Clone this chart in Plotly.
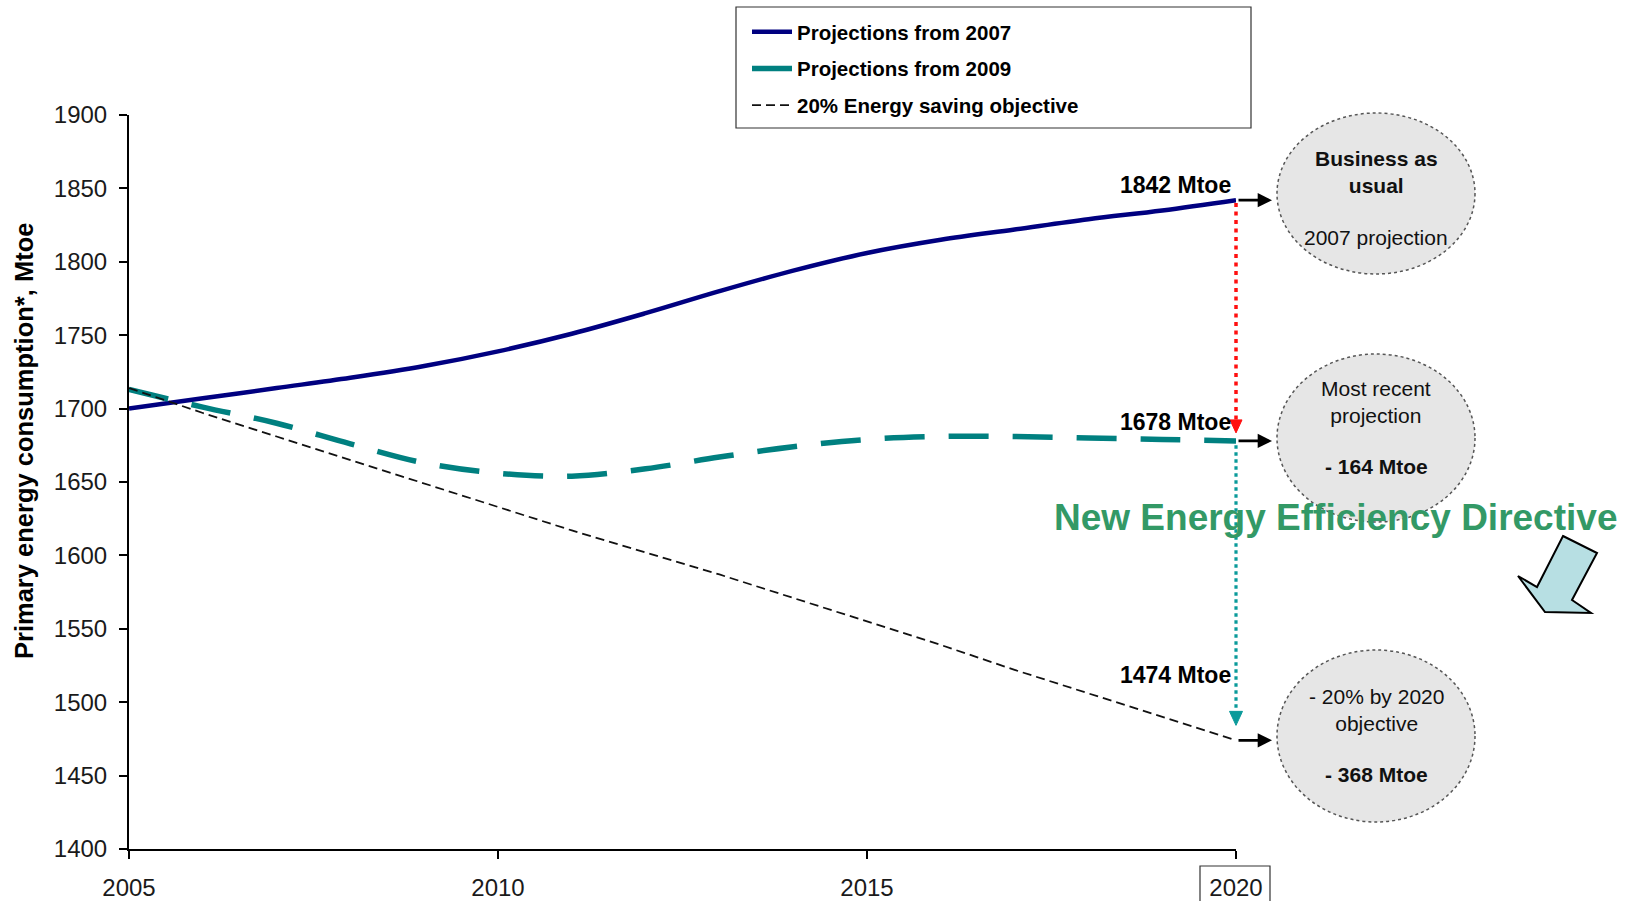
import plotly.graph_objects as go

# ---- data -------------------------------------------------------------
years = list(range(2005, 2021))
proj_2007 = [1700, 1707, 1714, 1721, 1729, 1739, 1751, 1765, 1780, 1794,
             1806, 1815, 1822, 1829, 1835, 1842]
proj_2009 = [1713, 1701, 1690, 1676, 1663, 1656, 1654, 1659, 1667, 1674,
             1679, 1681, 1681, 1680, 1679, 1678]
objective = [1714, 1697, 1681, 1665, 1649, 1633, 1617, 1602, 1587, 1571,
             1555, 1539, 1522, 1506, 1490, 1474]
series_names = ["Projections from 2007", "Projections from 2009",
                "20% Energy saving objective"]
x_ticks = [2005, 2010, 2015, 2020]
y_ticks = list(range(1400, 1901, 50))

end_2007, end_2009, end_obj = proj_2007[-1], proj_2009[-1], objective[-1]
gap_recent = end_2007 - end_2009      # 164
gap_target = end_2007 - end_obj       # 368

# ---- page geometry ----------------------------------------------------
W, H = 1634, 901
ML, MR, MT, MB = 129, 398, 115, 52
PW, PH = W - ML - MR, H - MT - MB
FONT = "Liberation Sans, Arial, sans-serif"


def fx(px):
    return (px - ML) / PW


def fy(py):
    return (H - MB - py) / PH


X_END = fx(ML + PW)   # paper x of the last year (right edge of the plot)

fig = go.Figure()
fig.add_trace(go.Scatter(x=years, y=proj_2007, name=series_names[0], mode="lines",
                         line=dict(color="#000080", width=4.5, shape="spline"),
                         legendgroup="a"))
fig.add_trace(go.Scatter(x=years, y=proj_2009, name=series_names[1], mode="lines",
                         line=dict(color="#008080", width=5.5, shape="spline",
                                   dash="40px,24px"),
                         legendgroup="b"))
fig.add_trace(go.Scatter(x=years, y=objective, name=series_names[2], mode="lines",
                         line=dict(color="#111111", width=1.8, dash="9px,5px"),
                         legendgroup="c"))

shapes = []
annots = []

# legend frame
shapes.append(dict(type="rect", xref="paper", yref="paper",
                   x0=fx(736), x1=fx(1251), y0=fy(7), y1=fy(128),
                   line=dict(color="#333333", width=1.2), fillcolor="white",
                   layer="below"))

# box around the last year label
shapes.append(dict(type="rect", xref="paper", yref="paper",
                   x0=fx(1200), x1=fx(1270), y0=fy(866), y1=fy(905),
                   line=dict(color="#333333", width=1.2)))

# bubbles on the right
bubbles = [(113, 274), (354, 522), (650, 822)]
for top, bot in bubbles:
    shapes.append(dict(type="circle", xref="paper", yref="paper",
                       x0=fx(1277), x1=fx(1475), y0=fy(bot), y1=fy(top),
                       fillcolor="#E6E6E6",
                       line=dict(color="#555555", width=1.5, dash="dot")))

# red dotted gap arrow (2007 -> 2009 projection)
shapes.append(dict(type="line", xref="paper", yref="y", x0=X_END, x1=X_END,
                   y0=end_2007 - 2, y1=1692,
                   line=dict(color="#FF1010", width=3.5, dash="4px,4.5px")))
shapes.append(dict(type="path", xref="paper", yref="y", xsizemode="pixel",
                   ysizemode="pixel", xanchor=X_END, yanchor=end_2009,
                   path="M -6,21 L 6,21 L 0,8 Z", fillcolor="#FF1010",
                   line=dict(color="#FF1010", width=1)))

# teal dotted gap arrow (2009 projection -> objective)
shapes.append(dict(type="line", xref="paper", yref="y", x0=X_END, x1=X_END,
                   y0=end_2009 - 3, y1=1494,
                   line=dict(color="#0A9A9A", width=3.2, dash="3.5px,3.5px")))
shapes.append(dict(type="path", xref="paper", yref="y", xsizemode="pixel",
                   ysizemode="pixel", xanchor=X_END, yanchor=end_obj,
                   path="M -6.5,29 L 6.5,29 L 0,15 Z", fillcolor="#0A9A9A",
                   line=dict(color="#0A9A9A", width=1)))

# block arrow pointing down-left
pts = [(1563, 536), (1597, 553), (1572, 600), (1591, 613), (1545, 612),
       (1518, 576), (1537, 587)]
path = "M " + " L ".join(f"{fx(a):.5f},{fy(b):.5f}" for a, b in pts) + " Z"
shapes.append(dict(type="path", xref="paper", yref="paper", path=path,
                   fillcolor="#B7DFE3", line=dict(color="black", width=2)))

# value labels and black pointers at 2020
for v, lift in [(end_2007, 15), (end_2009, 19), (end_obj, 65)]:
    annots.append(dict(x=2020, y=v, xref="x", yref="y", xanchor="right",
                       yanchor="middle", xshift=-3, yshift=lift, showarrow=False,
                       text=f"<b>{v} Mtoe</b>",
                       font=dict(family=FONT, size=23, color="black")))
    annots.append(dict(x=fx(1272), y=v, xref="paper", yref="y", ax=-35, ay=0,
                       axref="pixel", ayref="pixel", showarrow=True, text="",
                       arrowhead=2, arrowsize=1.1, arrowwidth=2.6,
                       arrowcolor="black"))

# bubble texts
bx = fx(1376)
bub_font = dict(family=FONT, size=21, color="#111111")
annots += [
    dict(x=bx, y=fy(172), text="<b>Business as<br>usual</b>"),
    dict(x=bx, y=fy(237), text="2007 projection"),
    dict(x=bx, y=fy(402), text="Most recent<br>projection"),
    dict(x=bx, y=fy(466), text=f"<b>- {gap_recent} Mtoe</b>"),
    dict(x=bx, y=fy(710), text="- 20% by 2020<br>objective"),
    dict(x=bx, y=fy(774), text=f"<b>- {gap_target} Mtoe</b>"),
]
for a in annots[-6:]:
    a.update(xref="paper", yref="paper", showarrow=False, xanchor="center",
             yanchor="middle", font=bub_font)

annots.append(dict(x=fx(1335), y=fy(517), xref="paper", yref="paper",
                   showarrow=False, xanchor="center", yanchor="middle",
                   text="<b>New Energy Efficiency Directive</b>",
                   font=dict(family=FONT, size=37, color="#339966")))

# vertical axis title
annots.append(dict(x=fx(24), y=fy(441), xref="paper", yref="paper",
                   showarrow=False, xanchor="center", yanchor="middle",
                   textangle=-90,
                   text="<b>Primary energy consumption*, Mtoe</b>",
                   font=dict(family=FONT, size=25.5, color="black")))

fig.update_layout(
    width=W, height=H,
    margin=dict(l=ML, r=MR, t=MT, b=MB, autoexpand=False),
    paper_bgcolor="white", plot_bgcolor="white",
    font=dict(family=FONT, color="#111111"),
    shapes=shapes, annotations=annots,
    showlegend=True,
    legend=dict(x=fx(747), y=fy(12), xanchor="left", yanchor="top",
                bgcolor="rgba(0,0,0,0)", borderwidth=0,
                tracegroupgap=7, itemwidth=40,
                font=dict(family=FONT, size=20.5, color="black", weight="bold")),
    xaxis=dict(range=[2005, 2020], tickvals=x_ticks, showgrid=False,
               zeroline=False, showline=True, linecolor="black", linewidth=2,
               ticks="outside", ticklen=8, tickwidth=1.5, tickcolor="black",
               tickfont=dict(family=FONT, size=24, color="#1a1a1a"),
               ticklabelstandoff=8),
    yaxis=dict(range=[1400, 1900], tickvals=y_ticks, showgrid=False,
               zeroline=False, showline=True, linecolor="black", linewidth=2,
               ticks="outside", ticklen=8, tickwidth=1.5, tickcolor="black",
               tickfont=dict(family=FONT, size=24, color="#1a1a1a"),
               ticklabelstandoff=7),
)

fig.write_html("out.html")
